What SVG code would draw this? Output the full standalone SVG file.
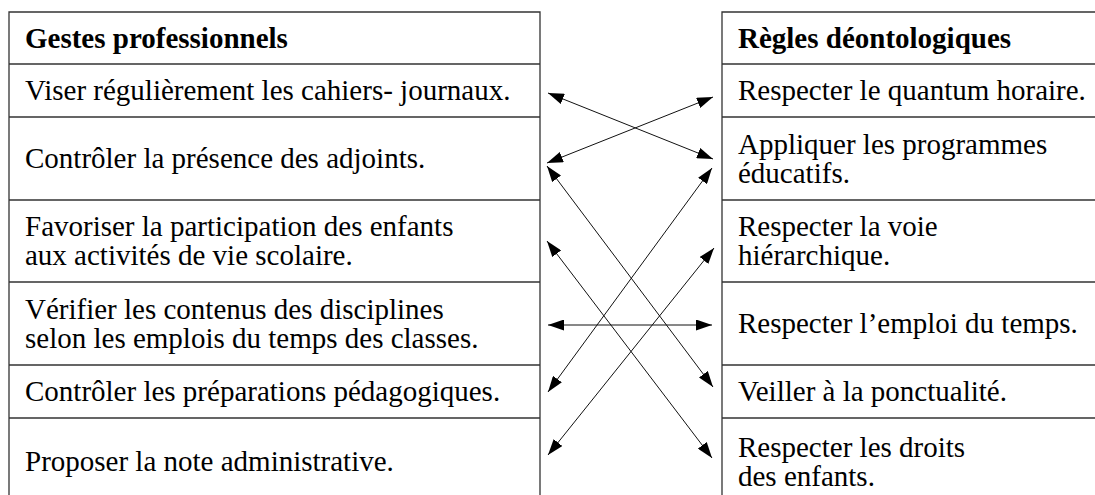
<svg xmlns="http://www.w3.org/2000/svg" width="1095" height="495" viewBox="0 0 1095 495">
<style>
.grid{stroke:#333;stroke-width:1.3;fill:none}
.t{font-size:29px;fill:#000}
.b{font-weight:bold}
.c{stroke:#111;stroke-width:1;fill:none;marker-start:url(#ah);marker-end:url(#ah)}
</style>
<defs>
<marker id="ah" viewBox="0 0 16 11" refX="16" refY="5.5" markerWidth="16" markerHeight="11" markerUnits="userSpaceOnUse" orient="auto-start-reverse">
<path d="M0,0 L16,5.5 L0,11 z" fill="#000"/>
</marker>
</defs>
<rect width="1095" height="495" fill="#fff"/>
<g id="left-table" font-family="'Liberation Serif', 'DejaVu Serif', serif">
<path class="grid" d="M9,500 V12 H540 V500 M9,64 H540 M9,117 H540 M9,200 H540 M9,282 H540 M9,365 H540 M9,418 H540"/>
<g id="l0"><text class="t b" x="25" y="48">Gestes professionnels</text></g>
<g id="l1"><text class="t" x="25" y="100">Viser régulièrement les cahiers- journaux.</text></g>
<g id="l2"><text class="t" x="25" y="168">Contrôler la présence des adjoints.</text></g>
<g id="l3"><text class="t" x="25" y="236">Favoriser la participation des enfants</text><text class="t" x="25" y="265">aux activités de vie scolaire.</text></g>
<g id="l4"><text class="t" x="25" y="318.5">Vérifier les contenus des disciplines</text><text class="t" x="25" y="347.5">selon les emplois du temps des classes.</text></g>
<g id="l5"><text class="t" x="25" y="401">Contrôler les préparations pédagogiques.</text></g>
<g id="l6"><text class="t" x="25" y="471">Proposer la note administrative.</text></g>
</g>
<g id="right-table" font-family="'Liberation Serif', 'DejaVu Serif', serif">
<path class="grid" d="M722,500 V12 H1095 M722,64 H1095 M722,117 H1095 M722,200 H1095 M722,282 H1095 M722,365 H1095 M722,418 H1095"/>
<g id="r0"><text class="t b" x="738" y="48">Règles déontologiques</text></g>
<g id="r1"><text class="t" x="738" y="100">Respecter le quantum horaire.</text></g>
<g id="r2"><text class="t" x="738" y="153.5">Appliquer les programmes</text><text class="t" x="738" y="182.5">éducatifs.</text></g>
<g id="r3"><text class="t" x="738" y="236">Respecter la voie</text><text class="t" x="738" y="265">hiérarchique.</text></g>
<g id="r4"><text class="t" x="738" y="333">Respecter l’emploi du temps.</text></g>
<g id="r5"><text class="t" x="738" y="401">Veiller à la ponctualité.</text></g>
<g id="r6"><text class="t" x="738" y="456.5">Respecter les droits</text><text class="t" x="738" y="485.5">des enfants.</text></g>
</g>
<g id="connectors">
<line class="c" x1="548" y1="93" x2="713" y2="159"/>
<line class="c" x1="713" y1="97" x2="547" y2="163"/>
<line class="c" x1="547" y1="166" x2="713" y2="387"/>
<line class="c" x1="547" y1="241" x2="712" y2="458"/>
<line class="c" x1="712" y1="168" x2="548" y2="392"/>
<line class="c" x1="714" y1="248" x2="548" y2="455"/>
<line class="c" x1="548" y1="325" x2="712" y2="325"/>
</g>
</svg>
